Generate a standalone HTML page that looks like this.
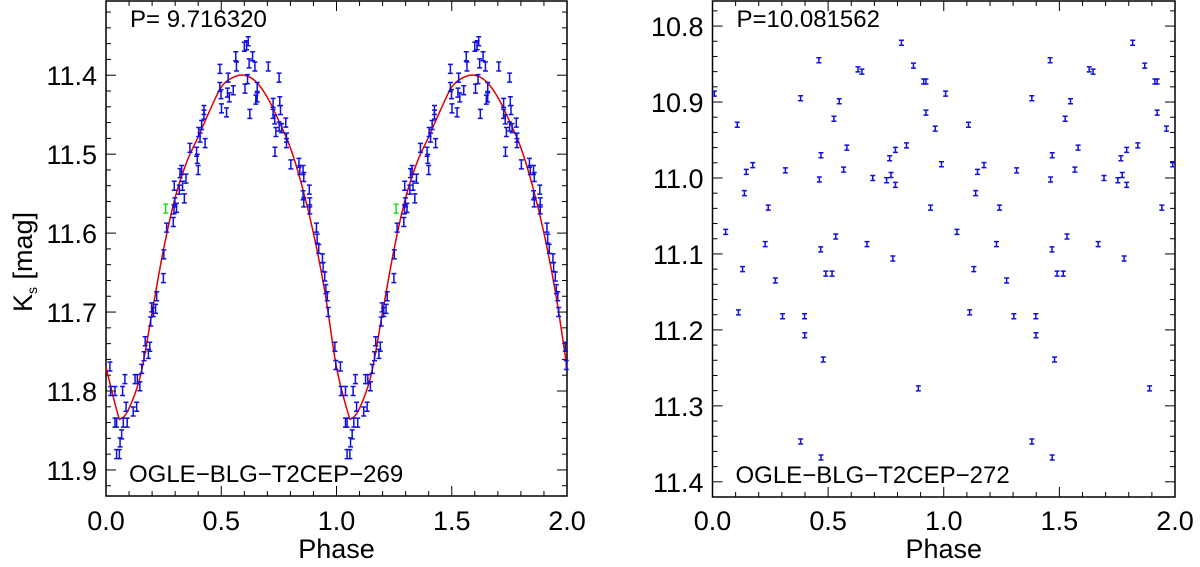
<!DOCTYPE html>
<html><head><meta charset="utf-8"><style>
html,body{margin:0;padding:0;background:#fff;}
svg{display:block;font-family:"Liberation Sans",Arial,sans-serif;}
</style></head><body>
<svg id="fig" width="1200" height="567" viewBox="0 0 1200 567"></svg>
<script>
// ---- Left panel data (OGLE-BLG-T2CEP-269) ----
const leftPhase = [0.017,0.02,0.039,0.039,0.046,0.046,0.058,0.061,0.068,0.072,0.075,0.082,0.087,0.092,0.118,0.126,0.133,0.136,0.147,0.155,0.165,0.17,0.184,0.19,0.194,0.198,0.205,0.215,0.22,0.249,0.251,0.263,0.292,0.295,0.299,0.296,0.306,0.318,0.321,0.328,0.332,0.34,0.347,0.364,0.393,0.396,0.4,0.402,0.408,0.415,0.425,0.43,0.425,0.494,0.494,0.499,0.501,0.523,0.527,0.53,0.535,0.552,0.563,0.566,0.6,0.603,0.61,0.617,0.614,0.621,0.624,0.636,0.646,0.65,0.656,0.656,0.704,0.725,0.725,0.732,0.737,0.751,0.754,0.757,0.751,0.762,0.733,0.78,0.783,0.783,0.802,0.837,0.841,0.855,0.858,0.855,0.858,0.882,0.884,0.884,0.913,0.916,0.923,0.939,0.942,0.949,0.954,0.96,0.964,0.993,0.997];
const leftMag = [11.769,11.80,11.80,11.84,11.84,11.88,11.88,11.865,11.855,11.80,11.84,11.785,11.82,11.84,11.826,11.785,11.82,11.785,11.794,11.772,11.756,11.737,11.753,11.744,11.712,11.694,11.70,11.696,11.68,11.657,11.627,11.593,11.586,11.57,11.561,11.54,11.568,11.545,11.524,11.52,11.54,11.556,11.531,11.492,11.497,11.506,11.52,11.472,11.479,11.463,11.45,11.486,11.444,11.392,11.415,11.424,11.442,11.447,11.422,11.403,11.428,11.419,11.376,11.389,11.364,11.417,11.362,11.357,11.405,11.385,11.449,11.376,11.389,11.431,11.415,11.428,11.389,11.435,11.449,11.456,11.472,11.403,11.433,11.444,11.465,11.467,11.497,11.46,11.486,11.479,11.513,11.511,11.52,11.52,11.529,11.552,11.561,11.545,11.561,11.57,11.593,11.607,11.62,11.632,11.643,11.655,11.671,11.68,11.70,11.744,11.767];
const leftOutlierPhase = [0.259];
const leftOutlierMag = [11.569];
const fitPhase = [0,0.05,0.065,0.1,0.15,0.2,0.25,0.3,0.35,0.4,0.45,0.5,0.55,0.6,0.65,0.7,0.75,0.8,0.85,0.9,0.95,1.0];
const fitMag = [11.77,11.828,11.835,11.822,11.78,11.70,11.62,11.555,11.51,11.478,11.445,11.415,11.403,11.40,11.408,11.428,11.458,11.492,11.54,11.60,11.675,11.77];
// ---- Right panel data (OGLE-BLG-T2CEP-272) ----
const rightPhase = [0.008,0.057,0.107,0.112,0.13,0.138,0.146,0.174,0.228,0.241,0.272,0.303,0.315,0.381,0.381,0.398,0.399,0.46,0.462,0.468,0.469,0.469,0.479,0.49,0.517,0.525,0.533,0.548,0.567,0.581,0.629,0.646,0.668,0.693,0.753,0.766,0.772,0.78,0.791,0.791,0.817,0.839,0.869,0.89,0.913,0.923,0.923,0.943,0.963,0.99];
const rightMag = [10.889,11.071,10.93,11.177,11.12,11.02,10.992,10.983,11.087,11.039,11.135,11.182,10.99,10.895,11.347,11.182,11.207,10.845,11.002,11.094,10.97,11.368,11.239,11.126,11.126,10.922,11.077,10.899,10.989,10.96,10.857,10.86,11.087,11.0,11.003,10.974,10.996,11.106,11.009,10.963,10.822,10.957,10.852,11.277,10.873,10.873,10.914,11.039,10.935,10.982];
const leftYTicks = ["11.4","11.5","11.6","11.7","11.8","11.9"];
const rightYTicks = ["10.8","10.9","11.0","11.1","11.2","11.3","11.4"];
const xTicks = ["0.0","0.5","1.0","1.5","2.0"];

const NS="http://www.w3.org/2000/svg";
const svg=document.getElementById('fig');
function mk(tag,attrs,parent){const e=document.createElementNS(NS,tag);for(const k in attrs)e.setAttribute(k,attrs[k]);(parent||svg).appendChild(e);return e;}

function panel(cfg){
  const g=mk('g',{});
  
  
  const X=p=>cfg.x0+(p/2)*(cfg.x1-cfg.x0);
  const Y=m=>cfg.y0+(m-cfg.mTop)/(cfg.mBot-cfg.mTop)*(cfg.y1-cfg.y0);
  const frame=mk('rect',{x:cfg.x0,y:cfg.y0,width:cfg.x1-cfg.x0,height:cfg.y1-cfg.y0,fill:'none',stroke:'#000','stroke-width':1.5},g);
  
  
  for(let i=0;i<=20;i++){
    const p=i*0.1, x=X(p), len=(i%5===0)?10:5;
    mk('line',{x1:x,y1:cfg.y1,x2:x,y2:cfg.y1-len,stroke:'#000','stroke-width':1},g);
    mk('line',{x1:x,y1:cfg.y0,x2:x,y2:cfg.y0+len,stroke:'#000','stroke-width':1},g);
  }
  xTicks.forEach((t,i)=>{
    const tx=mk('text',{x:X(i*0.5),y:530,'font-size':27,'text-anchor':'middle',fill:'#000'},g);
    tx.textContent=t;
    
    
  });
  const m0=Math.ceil(cfg.mTop*50-1e-6), m1=Math.floor(cfg.mBot*50+1e-6);
  for(let k=m0;k<=m1;k++){
    const m=k/50, y=Y(m), len=(k%5===0)?10:5;
    mk('line',{x1:cfg.x0,y1:y,x2:cfg.x0+len,y2:y,stroke:'#000','stroke-width':1},g);
    mk('line',{x1:cfg.x1,y1:y,x2:cfg.x1-len,y2:y,stroke:'#000','stroke-width':1},g);
  }
  cfg.yTicks.forEach(t=>{
    const tx=mk('text',{x:cfg.x0-9,y:Y(parseFloat(t))+10,'font-size':27,'text-anchor':'end',fill:'#000'},g);
    tx.textContent=t;
    
    
  });
  const xl=mk('text',{x:(cfg.x0+cfg.x1)/2,y:558,'font-size':27,'text-anchor':'middle',fill:'#000'},g);
  xl.textContent='Phase';
  
  
  const pt=mk('text',{x:cfg.x0+24,y:27,'font-size':24,fill:'#000'},g);
  pt.textContent=cfg.period;
  
  
  const st=mk('text',{x:cfg.x0+23,y:cfg.y1-14,'font-size':24,fill:'#000'},g);
  st.textContent=cfg.star;
  
  
  return {g,X,Y};
}

function errbar(g,x,y,h,w,color){
  const b=mk('path',{d:`M${x-w} ${y-h}H${x+w}M${x} ${y-h}V${y+h}M${x-w} ${y+h}H${x+w}`,stroke:color,'stroke-width':1.5,fill:'none'},g);
  
  
}

const L=panel({name:'left-panel',x0:106,x1:567,y0:1,y1:496,mTop:11.306,mBot:11.933,yTicks:leftYTicks,period:'P= 9.716320',star:'OGLE\u2212BLG\u2212T2CEP\u2212269'});
(function(){
  const px=[],py=[];
  for(let c=0;c<2;c++){fitPhase.forEach((p,i)=>{if(c===1&&i===0)return;px.push(L.X(p+c));py.push(L.Y(fitMag[i]));});}
  let d=`M${px[0]} ${py[0]}`;
  for(let i=0;i<px.length-1;i++){
    const i0=Math.max(0,i-1),i3=Math.min(px.length-1,i+2);
    const c1x=px[i]+(px[i+1]-px[i0])/6,c1y=py[i]+(py[i+1]-py[i0])/6;
    const c2x=px[i+1]-(px[i3]-px[i])/6,c2y=py[i+1]-(py[i3]-py[i])/6;
    d+=`C${c1x} ${c1y} ${c2x} ${c2y} ${px[i+1]} ${py[i+1]}`;
  }
  const fit=mk('path',{d,stroke:'#e00000','stroke-width':1.5,fill:'none'},L.g);
  
  
})();
for(let c=0;c<2;c++){
  leftPhase.forEach((p,i)=>{const ph=p+c;if(ph>2)return;errbar(L.g,L.X(ph),L.Y(leftMag[i]),4.5,2.5,'#1010e0');});
  leftOutlierPhase.forEach((p,i)=>errbar(L.g,L.X(p+c),L.Y(leftOutlierMag[i]),4.5,2.5,'#20e020'));
}
const yt=mk('text',{transform:'translate(32,262) rotate(-90)','font-size':27,'text-anchor':'middle',fill:'#000'});
yt.innerHTML='K<tspan font-size="14" dy="5">s</tspan><tspan dy="-5"> [mag]</tspan>';



const R=panel({name:'right-panel',x0:712.5,x1:1175,y0:1,y1:497,mTop:10.767,mBot:11.42,yTicks:rightYTicks,period:'P=10.081562',star:'OGLE\u2212BLG\u2212T2CEP\u2212272'});
for(let c=0;c<2;c++){
  rightPhase.forEach((p,i)=>{const ph=p+c;if(ph>2)return;errbar(R.g,R.X(ph),R.Y(rightMag[i]),2.5,2.5,'#1010e0');});
}
</script>
</body></html>
